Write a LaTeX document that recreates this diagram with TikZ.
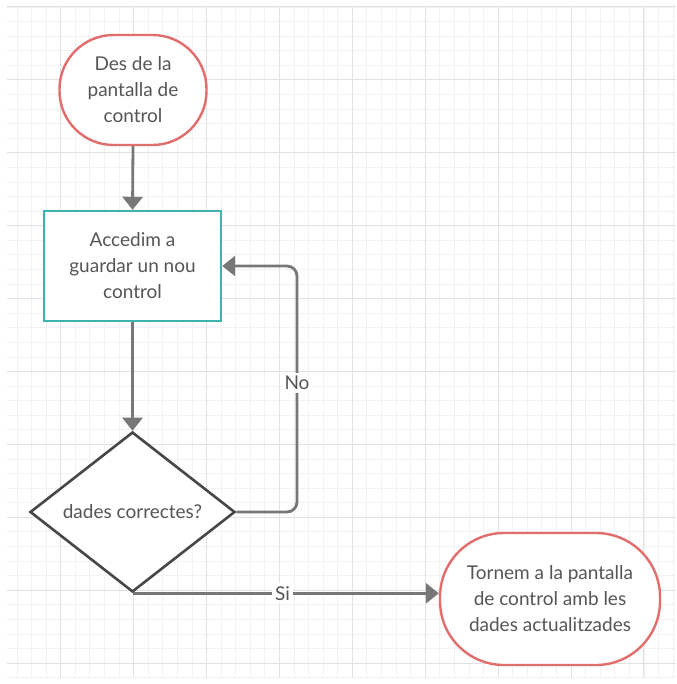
\documentclass[tikz,border=0pt]{standalone}
\usepackage{fontspec}
\setmainfont{Lato}
\usetikzlibrary{shapes.geometric,arrows.meta}
\definecolor{txt}{HTML}{555555}
\definecolor{redb}{HTML}{E26D6D}
\definecolor{tealb}{HTML}{3DB2AE}
\definecolor{diab}{HTML}{474747}
\definecolor{arr}{HTML}{777777}
\definecolor{minorg}{HTML}{F2F2F2}
\definecolor{majorg}{HTML}{E2E2E2}
\tikzset{
  lbl/.style={font=\fontsize{19}{26}\selectfont, text=txt, align=center},
  term/.style={lbl, draw=redb, line width=2.4pt, fill=white, rectangle, inner sep=0pt},
  procbox/.style={lbl, draw=tealb, line width=2.4pt, fill=white, rectangle, minimum width=177pt, minimum height=110pt},
  decis/.style={lbl, draw=diab, line width=2.6pt, fill=white, diamond, aspect=1.28, minimum width=205pt, minimum height=160pt, inner sep=0pt},
  conn/.style={draw=arr, line width=2.8pt, -{Triangle[width=20pt,length=13pt]}},
  elbl/.style={lbl, fill=white, inner sep=3pt}
}
\begin{document}
\begin{tikzpicture}[x=1pt,y=-1pt]
\useasboundingbox (0,0) rectangle (676,684);
\fill[white] (0,0) rectangle (676,684);
\begin{scope}
\clip (7,7) rectangle (676,678);
\foreach \i in {-3,...,42} {
  \draw[minorg, line width=0.8pt] ({60.7+14.58*\i},7) -- ({60.7+14.58*\i},678);
}
\foreach \j in {0,...,46} {
  \draw[minorg, line width=0.8pt] (7,{7+14.58*\j}) -- (676,{7+14.58*\j});
}
\foreach \i in {0,...,8} {
  \draw[majorg, line width=1pt] ({60.7+72.9*\i},7) -- ({60.7+72.9*\i},678);
}
\foreach \j in {0,...,9} {
  \draw[majorg, line width=1pt] (7,{7+72.9*\j}) -- (676,{7+72.9*\j});
}
\end{scope}

\node[term, minimum width=147pt, minimum height=110pt, rounded corners=54pt] (start) at (133,90) {Des de la\\pantalla de\\control};
\node[procbox] (proc) at (132.5,266) {Accedim a\\guardar un nou\\control};
\node[decis] (dec) at (132.5,512) {dades correctes?};
\node[term, minimum width=220pt, minimum height=132pt, rounded corners=64pt] (fin) at (550,599) {Tornem a la pantalla\\de control amb les\\dades actualitzades};

\draw[conn] (start.south) -- (proc.north);
\draw[conn] (proc.south) -- (dec.north);
\coordinate (nocorner) at (297,512);
\draw[conn, rounded corners=10pt] (dec.east) -- (nocorner) |- (proc.east)
  node[elbl, pos=0.262] (nolbl) {No};
\draw[conn] (dec.south) -- (dec.south -| fin.west)
  node[elbl, pos=0.49] (silbl) {Si};
\end{tikzpicture}
\end{document}
